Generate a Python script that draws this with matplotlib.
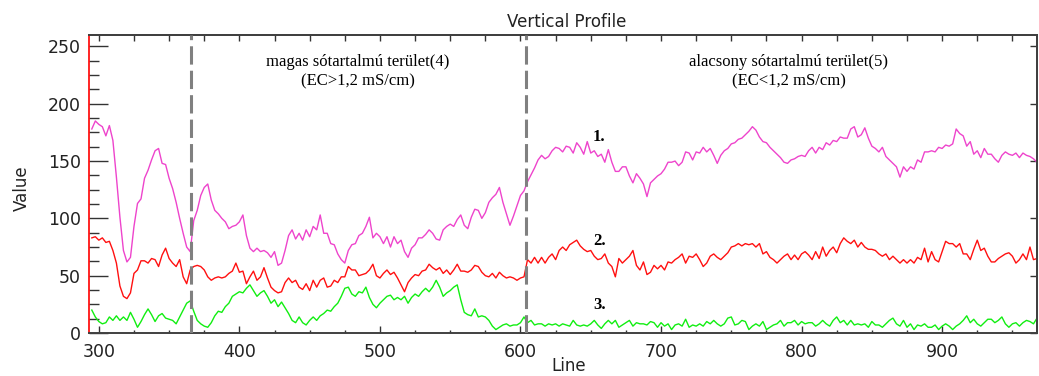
import numpy as np
import matplotlib
matplotlib.use("Agg")
import matplotlib.pyplot as plt
from matplotlib.ticker import MultipleLocator, NullLocator, NullFormatter

# profile sampled every 2.5 lines starting at line 295
LINE_START = 295
LINE_STEP = 2.5

curve1 = [
    178, 185, 182, 180, 172, 181, 168, 136, 101, 72,
    62, 66, 93, 113, 117, 135, 142, 151, 159, 161,
    148, 147, 135, 126, 114, 100, 87, 75, 71, 98,
    107, 120, 127, 130, 116, 107, 104, 100, 97, 91,
    93, 94, 97, 103, 85, 74, 71, 74, 71, 72,
    70, 66, 71, 59, 61, 72, 85, 90, 82, 87,
    81, 90, 84, 93, 90, 103, 87, 87, 78, 77,
    69, 64, 61, 72, 77, 78, 85, 87, 93, 101,
    83, 87,
    84, 78, 84, 75, 84, 78, 81, 71, 66, 74,
    77, 83, 83, 86, 90, 87, 82, 81, 90, 93,
    95, 93, 99, 103, 94, 91, 101, 108, 107, 100,
    105, 114, 118, 121, 127, 114, 104, 94, 102, 111,
    120, 124, 132, 138, 144, 151, 155, 152, 154, 159,
    162, 161, 158, 163, 162, 157, 166, 162, 156, 167,
    157, 159, 154, 156, 149, 160, 149, 141, 141, 145,
    145, 137, 131, 139, 135, 130, 119, 131, 134, 137,
    139, 143, 149, 149, 150, 146, 149, 158, 157, 151,
    158, 157, 162, 158, 161, 155, 148, 155, 159, 161,
    165, 166, 169, 170, 173, 176, 180, 177, 171, 167,
    166, 162, 159, 156, 153, 149, 148, 151, 152, 154,
    155, 154, 159, 162, 157, 162, 160, 166, 164, 168,
    167, 171, 170, 170, 178, 180, 171, 173, 179, 170,
    163, 161, 158, 162, 154, 151, 148, 145, 136, 145,
    141, 145, 143, 151, 149, 158, 158, 159, 158, 162,
    161, 164, 163, 165, 178, 174, 172, 163, 167, 156,
    159, 153, 161, 156, 156, 152, 149, 155, 158, 156,
    155, 157, 153, 157, 155, 154, 152, 149,
]

curve2 = [
    83, 84, 81, 83, 79, 80, 72, 61, 41, 32,
    30, 35, 52, 55, 63, 63, 61, 65, 64, 58,
    68, 74, 65, 61, 58, 64, 49, 43, 55, 58,
    59, 58, 55, 49, 46, 48, 49, 48, 49, 52,
    54, 61, 53, 54, 43, 49, 54, 46, 49, 57,
    48, 40, 37, 35, 36, 44, 48, 44, 46, 40,
    38, 43, 37, 46, 40, 46, 48, 40, 41, 46,
    44, 49, 49, 58, 55, 55, 50, 51, 52, 55,
    60, 50,
    48, 52, 55, 51, 53, 48, 42, 36, 44, 48,
    51, 50, 54, 55, 60, 57, 55, 57, 52, 55,
    51, 55, 60, 54, 54, 53, 55, 59, 58, 53,
    50, 49, 52, 48, 53, 50, 48, 49, 48, 46,
    48, 49, 64, 61, 66, 61, 66, 61, 66, 69,
    64, 72, 75, 72, 77, 79, 81, 76, 73, 71,
    72, 67, 64, 65, 69, 61, 58, 49, 65, 61,
    64, 67, 72, 59, 55, 62, 51, 53, 59, 56,
    59, 55, 62, 61, 64, 66, 69, 61, 67, 66,
    69, 64, 58, 61, 67, 69, 66, 64, 67, 70,
    75, 76, 78, 76, 78, 77, 78, 75, 78, 69,
    71, 66, 64, 61, 64, 67, 69, 64, 68, 64,
    69, 71, 68, 64, 71, 65, 75, 67, 72, 75,
    70, 78, 83, 80, 78, 81, 75, 79, 75, 73,
    73, 72, 69, 67, 69, 64, 67, 64, 61, 64,
    61, 64, 61, 66, 64, 74, 62, 71, 64, 62,
    71, 80, 78, 78, 75, 78, 69, 69, 64, 73,
    81, 72, 74, 67, 62, 62, 65, 67, 69, 70,
    67, 61, 64, 69, 64, 75, 64, 65,
]

curve3 = [
    20, 14, 10, 8, 9, 14, 11, 15, 11, 14,
    11, 18, 12, 5, 10, 16, 21, 16, 10, 15,
    17, 13, 12, 11, 8, 14, 20, 26, 28, 19,
    11, 8, 6, 5, 9, 15, 19, 18, 23, 26,
    32, 34, 36, 35, 39, 42, 37, 32, 35, 37,
    32, 26, 29, 23, 27, 22, 17, 11, 9, 14,
    9, 7, 11, 14, 11, 15, 17, 20, 19, 23,
    26, 32, 39, 40, 34, 32, 36, 35, 40, 31,
    25, 22,
    26, 29, 32, 33, 29, 31, 29, 32, 26, 31,
    34, 32, 36, 39, 36, 40, 46, 40, 32, 35,
    37, 40, 42, 29, 18, 16, 15, 21, 14, 15,
    14, 11, 6, 3, 5, 7, 8, 6, 7, 7,
    9, 14, 9, 11, 7, 8, 8, 6, 8, 7,
    8, 6, 8, 7, 6, 11, 7, 6, 7, 6,
    8, 11, 7, 4, 8, 11, 8, 11, 5, 7,
    9, 11, 6, 9, 8, 8, 7, 10, 9, 5,
    9, 6, 8, 3, 7, 8, 6, 12, 5, 7,
    6, 8, 6, 10, 8, 11, 8, 6, 8, 13,
    14, 7, 8, 11, 10, 3, 6, 8, 6, 10,
    3, 5, 7, 8, 11, 6, 9, 9, 11, 7,
    10, 8, 9, 9, 6, 8, 11, 8, 6, 11,
    14, 9, 11, 7, 11, 7, 8, 7, 8, 5,
    10, 7, 7, 5, 8, 11, 13, 8, 6, 11,
    5, 8, 3, 7, 6, 8, 5, 5, 7, 3,
    6, 8, 6, 3, 6, 8, 11, 15, 9, 12,
    8, 6, 9, 12, 12, 9, 11, 14, 8, 5,
    8, 9, 6, 9, 11, 10, 8, 13,
]

boundaries = [365.5, 604]
zone_texts = [
    "magas sótartalmú terület(4)\n(EC>1,2 mS/cm)",
    "alacsony sótartalmú terület(5)\n(EC<1,2 mS/cm)",
]
curve_names = ["1.", "2.", "3."]

colors = ["#ee44cc", "#ff1010", "#11ee11"]

fig = plt.figure(figsize=(10.39, 3.76), dpi=100)
ax = fig.add_axes([89 / 1039, 43 / 376, 948 / 1039, 298 / 376])

for vals, c in zip([curve1, curve2, curve3], colors):
    xs = LINE_START + LINE_STEP * np.arange(len(vals))
    ax.plot(xs, vals, color=c, lw=1.0, zorder=2)

for b in boundaries:
    ax.axvline(b, color="#808080", lw=2.2, dashes=(6, 2), zorder=3)

ax.set_xlim(293, 967.5)
ax.set_ylim(0, 260)

# zone captions
ax.text(484, 228, zone_texts[0], ha="center", va="center",
        family="Liberation Serif", fontsize=12, linespacing=1.25)
ax.text(791, 228, zone_texts[1], ha="center", va="center",
        family="Liberation Serif", fontsize=12, linespacing=1.25)

# curve numbers
for name, yv in zip(curve_names, [171, 80, 24]):
    ax.text(656, yv, name, ha="center", va="center", family="Liberation Serif",
            fontsize=12, fontweight="bold")

# axes styling (IDL-like)
for side in ["top", "right", "bottom"]:
    ax.spines[side].set_color("#404040")
    ax.spines[side].set_linewidth(1.4)
ax.spines["left"].set_color("red")
ax.spines["left"].set_linewidth(1.2)

ax.xaxis.set_major_locator(MultipleLocator(100))
ax.xaxis.set_minor_locator(MultipleLocator(25))
ax.yaxis.set_major_locator(MultipleLocator(50))
ax.yaxis.set_minor_locator(MultipleLocator(12.5))

ax.tick_params(axis="y", which="major", direction="in", length=13.7, width=1,
               color="#333333", left=True, right=False, labelsize=12.5, pad=6)
ax.tick_params(axis="y", which="minor", direction="in", length=7.2, width=1,
               color="#333333", left=True, right=False)
ax.tick_params(axis="x", which="major", direction="in", length=5, width=1,
               color="#333333", bottom=True, top=False, labelsize=12.5, pad=7)
ax.tick_params(axis="x", which="minor", direction="in", length=2.5, width=1,
               color="#333333", bottom=True, top=False)
for lab in ax.get_xticklabels() + ax.get_yticklabels():
    lab.set_color("#222222")

secx = ax.secondary_xaxis("top")
secx.xaxis.set_major_locator(MultipleLocator(25))
secx.xaxis.set_minor_locator(NullLocator())
secx.xaxis.set_major_formatter(NullFormatter())
secx.tick_params(direction="in", length=4.3, width=1, color="#333333")
secx.spines["top"].set_color("#404040")
secx.spines["top"].set_linewidth(1.4)

secy = ax.secondary_yaxis("right")
secy.yaxis.set_major_locator(MultipleLocator(50))
secy.yaxis.set_minor_locator(NullLocator())
secy.yaxis.set_major_formatter(NullFormatter())
secy.tick_params(direction="in", length=5, width=1, color="#333333")
secy.spines["right"].set_color("#404040")
secy.spines["right"].set_linewidth(1.4)

fig.text(567 / 1039, 1 - 22 / 376, "Vertical Profile", ha="center", va="center",
         fontsize=12, color="#222222")
fig.text(22 / 1039, 1 - 188 / 376, "Value", rotation=90, ha="center", va="center",
         fontsize=12, color="#222222")
fig.text(569 / 1039, 1 - 366 / 376, "Line", ha="center", va="center",
         fontsize=12, color="#222222")

fig.savefig("out.png", dpi=100)
